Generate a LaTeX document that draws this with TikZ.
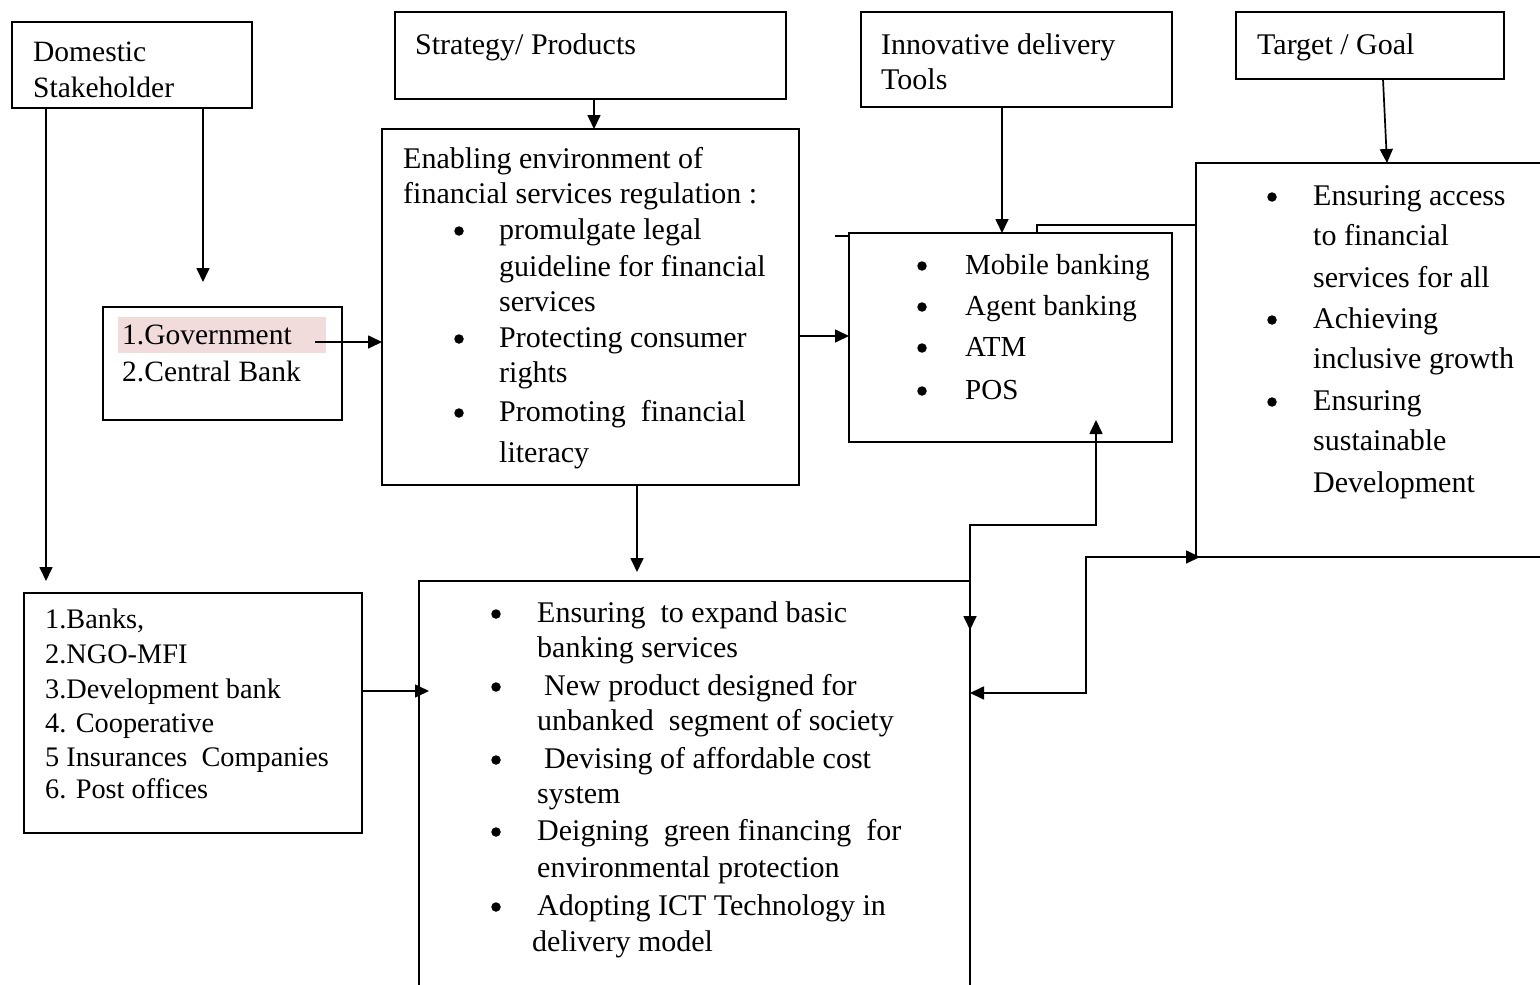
\documentclass[tikz,border=0pt]{standalone}
\usepackage{fontspec}
\setmainfont{Liberation Serif}
\usetikzlibrary{arrows.meta,calc}
\definecolor{hl}{HTML}{F2DCDB}
\newcommand\txtline[5][30]{\node[txt,font=\fontsize{#1}{#1}\selectfont] (#2) at (#3,#4) {#5};}
\newcommand\bulletat[4][30]{\node[dot] (#2) at (#3,#4-8) {};}
\begin{document}
\begin{tikzpicture}[x=1pt,y=-1pt,
  box/.style={draw,line width=1.7pt,inner sep=0pt,outer sep=0pt,anchor=north west},
  txt/.style={inner sep=0pt,anchor=base west},
  dot/.style={circle,fill=black,inner sep=0pt,minimum size=9.5pt},
  arr/.style={line width=1.7pt,-{Triangle[length=14pt,width=13pt]}},
  arrboth/.style={line width=1.7pt,{Triangle[length=14pt,width=13pt]}-{Triangle[length=14pt,width=13pt]}},
  conn/.style={line width=1.7pt}]
\useasboundingbox (0,0) rectangle (1540,985);
\fill[white] (0,0) rectangle (1540,985);

% boxes
\node[box,minimum width=240pt,minimum height=86pt] (dom) at (12,22) {};
\node[box,minimum width=391pt,minimum height=87pt] (str) at (395,12) {};
\node[box,minimum width=311pt,minimum height=95pt] (inn) at (861,12) {};
\node[box,minimum width=268pt,minimum height=67pt] (tgt) at (1236,12) {};
\node[box,minimum width=417pt,minimum height=356pt] (env) at (382,129) {};
\node[box,minimum width=239pt,minimum height=113pt] (gov) at (103,307) {};
\node[box,minimum width=323pt,minimum height=209pt] (mob) at (849,233) {};
\node[box,minimum width=400pt,minimum height=394pt] (goal) at (1196,163) {};
\node[box,minimum width=338pt,minimum height=240pt] (ban) at (24,593) {};
\node[box,minimum width=551pt,minimum height=500pt] (out) at (419,581) {};

% highlight
\fill[hl] (118,317) rectangle (326,353);

% texts
\txtline[29.5]{d1}{33}{61}{Domestic}
\txtline[29.5]{d2}{33}{97}{Stakeholder}
\txtline{s1}{415}{54}{Strategy/ Products}
\txtline{i1}{881}{54}{Innovative delivery}
\txtline{i2}{881}{89}{Tools}
\txtline{g1}{1257}{54}{Target / Goal}

\txtline{e1}{403}{168}{Enabling environment of}
\txtline{e2}{403}{203}{financial services regulation :}
\bulletat{eb1}{459}{239}
\txtline{e3}{499}{239}{promulgate legal}
\txtline{e4}{499}{276}{guideline for financial}
\txtline{e5}{499}{311}{services}
\bulletat{eb2}{459}{347}
\txtline{e6}{499}{347}{Protecting consumer}
\txtline{e7}{499}{382}{rights}
\bulletat{eb3}{459}{421}
\txtline{e8}{499}{421}{Promoting\ \ financial}
\txtline{e9}{499}{462}{literacy}

\txtline[29.5]{gv1}{122}{344}{1.Government}
\txtline[29.5]{gv2}{122}{381}{2.Central Bank}

\bulletat[29]{mb1}{922}{274}
\txtline[29]{m1}{965}{274}{Mobile banking}
\bulletat[29]{mb2}{922}{315}
\txtline[29]{m2}{965}{315}{Agent banking}
\bulletat[29]{mb3}{922}{356}
\txtline[29]{m3}{965}{356}{ATM}
\bulletat[29]{mb4}{922}{399}
\txtline[29]{m4}{965}{399}{POS}

\bulletat{gb1}{1272}{205}
\txtline{o1}{1313}{205}{Ensuring access}
\txtline{o2}{1313}{245}{to financial}
\txtline{o3}{1313}{287}{services for all}
\bulletat{gb2}{1272}{328}
\txtline{o4}{1313}{328}{Achieving}
\txtline{o5}{1313}{368}{inclusive growth}
\bulletat{gb3}{1272}{410}
\txtline{o6}{1313}{410}{Ensuring}
\txtline{o7}{1313}{450}{sustainable}
\txtline{o8}{1313}{492}{Development}

\txtline[28.3]{b1}{45}{628}{1.Banks,}
\txtline[28.3]{b2}{45}{663}{2.NGO-MFI}
\txtline[28.3]{b3}{45}{698}{3.Development bank}
\txtline[28.3]{b4}{45}{732}{4. Cooperative}
\txtline[28.3]{b5}{45}{766}{5 Insurances\ \ Companies}
\txtline[28.3]{b6}{45}{798}{6. Post offices}

\bulletat{ob1}{496}{622}
\txtline{u1}{537}{622}{Ensuring\ \ to expand basic}
\txtline{u2}{537}{657}{banking services}
\bulletat{ob2}{496}{695}
\txtline{u3}{544}{695}{New product designed for}
\txtline{u4}{537}{730}{unbanked\ \ segment of society}
\bulletat{ob3}{496}{768}
\txtline{u5}{544}{768}{Devising of affordable cost}
\txtline{u6}{537}{803}{system}
\bulletat{ob4}{496}{840}
\txtline{u7}{537}{840}{Deigning\ \ green financing\ \ for}
\txtline{u8}{537}{877}{environmental protection}
\bulletat{ob5}{496}{915}
\txtline{u9}{537}{915}{Adopting ICT Technology in}
\txtline{u10}{532}{951}{delivery model}

% connectors
\draw[arr] ([xshift=34pt]dom.south west) -- ([xshift=22pt,yshift=12pt]ban.north west);
\draw[arr] ([xshift=191pt]dom.south west) -- ([xshift=100pt,yshift=25pt]gov.north west);
\draw[arr] ([xshift=199pt]str.south west) coordinate (sa) -- (sa |- env.north);
\draw[arr] ([xshift=212pt,yshift=-35pt]gov.north west) coordinate (ga) -- (ga -| env.west);
\draw[arr] ([yshift=-29pt]env.east) coordinate (ea) -- (ea -| mob.west);
\draw[arr] ([xshift=141pt]inn.south west) coordinate (ia) -- (ia |- mob.north);
\draw[arr] ([xshift=147pt]tgt.south west) -- ([xshift=191pt]goal.north west);
\draw[arr] ([xshift=255pt]env.south west) coordinate (eb) -- ($(eb |- out.north)+(0,-9)$);
\draw[arr] ([yshift=22pt]ban.east) coordinate (ba) -- ($(ba -| out.west)+(10,0)$);
\draw[arrboth] ([xshift=247pt,yshift=22pt]mob.south west) |- ($(out.north east)+(0,-56)$) -- ($(out.north east)+(0,49)$);
\draw[arrboth] ([yshift=-112pt]out.north east) -| ([xshift=-110pt]goal.south west) -- ([xshift=4pt]goal.south west);
\draw[conn] ([xshift=188pt]mob.north west) |- ([yshift=-62pt]goal.north west);
\draw[conn] ([yshift=-3pt]mob.north west) -- ++(-14,0);
\end{tikzpicture}
\end{document}
